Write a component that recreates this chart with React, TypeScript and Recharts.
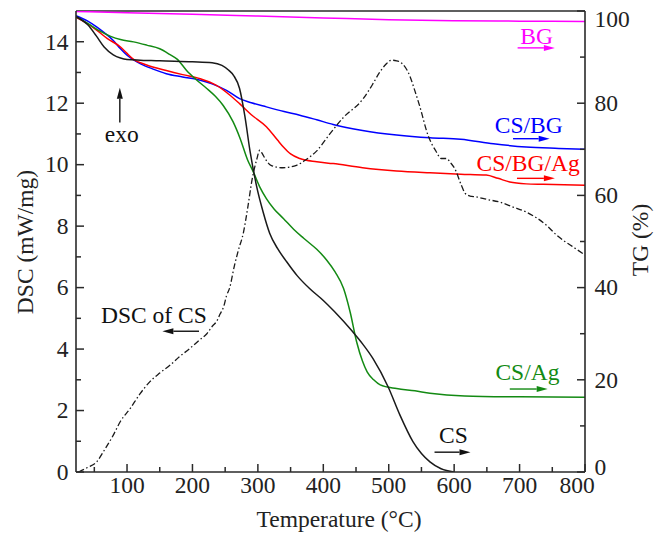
import { LineChart, Line, XAxis, YAxis, ReferenceLine, ReferenceDot } from "recharts";

// temperature ticks
const xMajor = [100, 200, 300, 400, 500, 600, 700, 800];
const xMinor = [50, 150, 250, 350, 450, 550, 650, 750];
const dscMajor = [0, 2, 4, 6, 8, 10, 12, 14];
const dscMinor = [1, 3, 5, 7, 9, 11, 13];
const tgMajor = [0, 20, 40, 60, 80, 100];
const tgMinor = [10, 30, 50, 70, 90];

// [temperature, TG %]
const bgTG = [
  [22, 99.9], [100, 99.6], [200, 99.3], [300, 98.9], [400, 98.5],
  [500, 98.1], [600, 97.9], [700, 97.8], [800, 97.7],
];
const csTG = [
  [22, 98.8], [40, 97.0], [53, 94.6], [65, 92.2], [79, 90.5], [90, 89.8], [100, 89.5],
  [150, 89.2], [200, 89.0], [230, 88.8], [245, 88.2], [255, 87.2], [263, 86.0],
  [272, 83.2], [280, 77.3], [288, 69.6], [298, 62.0], [308, 56.4], [318, 51.8],
  [330, 48.5], [344, 45.6], [360, 42.6], [379, 39.8], [400, 37.2], [417, 34.8],
  [445, 30.4], [460, 27.8], [476, 24.6], [499, 18.5], [517, 12.4], [537, 6.6],
  [550, 4.0], [563, 2.2], [580, 0.7], [600, 0],
];
const csbgTG = [
  [22, 99.0], [40, 97.8], [54, 96.5], [66, 95.2], [79, 93.6], [90, 91.8], [100, 90.4],
  [110, 89.4], [120, 88.6], [140, 87.4], [160, 86.4], [185, 85.7], [212, 85.0],
  [230, 84.2], [252, 82.8], [272, 81.0], [290, 80.1], [313, 79.2], [340, 78.2],
  [364, 77.4], [390, 76.4], [415, 75.4], [460, 74.1], [512, 73.1], [563, 72.5],
  [610, 72.2], [660, 71.2], [710, 70.5], [760, 70.2], [800, 70.0],
];
const csbgagTG = [
  [22, 98.6], [40, 97.2], [54, 95.8], [70, 94.0], [90, 92.2], [100, 90.8], [110, 89.5],
  [130, 88.3], [160, 87.1], [185, 86.2], [212, 85.3], [236, 83.9], [255, 82.0],
  [272, 79.9], [290, 77.5], [313, 74.9], [330, 72.0], [339, 70.5], [350, 69.0],
  [364, 68.0], [390, 67.3], [415, 66.9], [460, 66.0], [512, 65.3], [563, 64.9],
  [610, 64.6], [649, 64.4], [667, 63.7], [685, 62.9], [710, 62.5], [736, 62.4],
  [800, 62.2],
];
const csagTG = [
  [22, 98.8], [40, 97.3], [58, 95.7], [75, 94.5], [90, 93.8], [110, 93.3], [130, 92.6],
  [150, 91.8], [165, 90.6], [177, 89.5], [191, 87.1], [205, 85.2], [221, 83.3],
  [235, 81.5], [247, 79.5], [262, 76.0], [273, 72.3], [284, 67.8], [293, 65.1],
  [303, 61.8], [313, 59.3], [325, 57.0], [339, 55.0], [355, 52.6], [370, 50.7],
  [390, 48.3], [405, 46.0], [418, 43.4], [431, 39.8], [441, 34.7], [451, 28.2],
  [460, 24.0], [467, 21.7], [477, 20.0], [487, 18.9], [512, 18.1], [540, 17.6],
  [563, 17.1], [616, 16.5], [700, 16.3], [800, 16.2],
];
// [temperature, DSC mW/mg]
const csDSC = [
  [26, 0], [40, 0.15], [54, 0.34], [65, 0.7], [79, 1.2], [90, 1.65], [105, 2.07],
  [120, 2.55], [135, 2.94], [150, 3.22], [166, 3.48], [180, 3.75], [196, 4.02],
  [211, 4.3], [222, 4.5], [231, 4.76], [237, 4.9], [242, 5.13], [248, 5.4],
  [252, 5.73], [257, 6.0], [264, 6.7], [270, 7.2], [278, 7.8], [285, 8.67],
  [291, 9.5], [298, 10.15], [303, 10.47], [307, 10.35], [311, 10.2], [320, 9.98],
  [338, 9.9], [359, 9.98], [374, 10.17], [390, 10.45], [410, 11.0], [430, 11.52],
  [460, 12.12], [475, 12.6], [486, 13.0], [495, 13.25], [504, 13.4], [512, 13.38],
  [520, 13.3], [532, 12.9], [540, 12.4], [547, 11.93], [560, 10.96], [573, 10.41],
  [580, 10.2], [588, 10.2], [595, 10.05], [601, 9.87], [611, 9.33], [617, 9.06],
  [624, 8.98], [634, 8.95], [650, 8.87], [670, 8.78], [690, 8.62], [710, 8.46],
  [741, 8.03], [756, 7.72], [766, 7.55], [780, 7.35], [800, 7.06],
];

// annotations: label, anchor (temperature, value), axis
const labels = [
  { text: "BG", t: 726, v: 92.9, axis: "tg", color: "#ff00ff" },
  { text: "CS/BG", t: 714, v: 73.6, axis: "tg", color: "#0000ff" },
  { text: "CS/BG/Ag", t: 713, v: 65.2, axis: "tg", color: "#ff0000" },
  { text: "CS/Ag", t: 712, v: 20.0, axis: "tg", color: "#138a13" },
  { text: "CS", t: 599, v: 6.2, axis: "tg", color: "#111" },
  { text: "DSC of CS", t: 141, v: 4.84, axis: "dsc", color: "#111" },
  { text: "exo", t: 92, v: 10.74, axis: "dsc", color: "#111" },
];
const arrows = [
  { from: [697, 92.0], to: [754, 92.0], axis: "tg", color: "#ff00ff" },
  { from: [690, 72.3], to: [746, 72.3], axis: "tg", color: "#0000ff" },
  { from: [696, 63.7], to: [754, 63.7], axis: "tg", color: "#ff0000" },
  { from: [685, 18.0], to: [743, 18.0], axis: "tg", color: "#138a13" },
  { from: [570, 4.3], to: [625, 4.3], axis: "tg", color: "#111" },
  { from: [210, 4.58], to: [154, 4.58], axis: "dsc", color: "#111" },
  { from: [89, 11.37], to: [89, 12.5], axis: "dsc", color: "#111" },
];

const PLOT = { left: 76, right: 585, top: 11, bottom: 472 };
const FONT = "'Liberation Serif', 'Times New Roman', serif";
const FS = 23.5;
const AXIS = "#2a2a2a";

const toRows = (pts: number[][]) => pts.map(([t, v]) => ({ t, v }));

function XTick(props: any) {
  const { x, payload } = props;
  const v = payload.value;
  const major = xMajor.includes(v);
  const cx = Math.min(x, PLOT.right - 8);
  return (
    <g>
      <line x1={x} x2={x} y1={PLOT.bottom} y2={PLOT.bottom - (major ? 8 : 5)} stroke={AXIS} strokeWidth={1.5} />
      {major && (
        <text x={cx} y={PLOT.bottom + 20.5} textAnchor="middle" fontFamily={FONT} fontSize={FS} fill="#222">
          {v}
        </text>
      )}
    </g>
  );
}

function LeftTick(props: any) {
  const { y, payload } = props;
  const v = payload.value;
  const major = dscMajor.includes(v);
  return (
    <g>
      <line x1={PLOT.left} x2={PLOT.left + (major ? 8 : 5)} y1={y} y2={y} stroke={AXIS} strokeWidth={1.5} />
      {major && (
        <text x={PLOT.left - 7.5} y={y + 7.8} textAnchor="end" fontFamily={FONT} fontSize={FS} fill="#222">
          {v}
        </text>
      )}
    </g>
  );
}

function RightTick(props: any) {
  const { y, payload } = props;
  const v = payload.value;
  const major = tgMajor.includes(v);
  const cy = Math.min(Math.max(y, PLOT.top + 8), PLOT.bottom - 4.5);
  return (
    <g>
      <line x1={PLOT.right} x2={PLOT.right - (major ? 8 : 5)} y1={y} y2={y} stroke={AXIS} strokeWidth={1.5} />
      {major && (
        <text x={PLOT.right + 9.5} y={cy + 7.8} textAnchor="start" fontFamily={FONT} fontSize={FS} fill="#222">
          {v}
        </text>
      )}
    </g>
  );
}

function Arrow(props: any) {
  const { x1, y1, x2, y2, stroke } = props;
  const a = Math.atan2(y2 - y1, x2 - x1);
  const len = 11;
  const hw = 3;
  const bx = x2 - len * Math.cos(a);
  const by = y2 - len * Math.sin(a);
  const px = -Math.sin(a) * hw;
  const py = Math.cos(a) * hw;
  return (
    <g>
      <line x1={x1} y1={y1} x2={bx} y2={by} stroke={stroke} strokeWidth={1.4} />
      <polygon points={`${x2},${y2} ${bx + px},${by + py} ${bx - px},${by - py}`} fill={stroke} />
    </g>
  );
}

export default function App() {
  return (
    <div style={{ width: 666, height: 534, background: "#fff" }}>
      <style>{`body{margin:0}`}</style>
      <LineChart width={666} height={534} margin={{ top: 11, right: 0, bottom: 0, left: 0 }}>
        <XAxis
          type="number"
          dataKey="t"
          domain={[22, 800]}
          allowDataOverflow
          ticks={[...xMajor, ...xMinor].sort((a, b) => a - b)}
          interval={0}
          height={62}
          tickLine={false}
          tick={<XTick />}
          axisLine={{ stroke: AXIS, strokeWidth: 1.6 }}
          label={{
            content: () => (
              <text x={339} y={527} textAnchor="middle" fontFamily={FONT} fontSize={FS} fill="#222">
                Temperature (°C)
              </text>
            ),
          }}
        />
        <YAxis
          yAxisId="dsc"
          type="number"
          domain={[0, 15]}
          allowDataOverflow
          ticks={[...dscMajor, ...dscMinor].sort((a, b) => a - b)}
          interval={0}
          width={76}
          tickLine={false}
          tick={<LeftTick />}
          axisLine={{ stroke: AXIS, strokeWidth: 1.6 }}
          label={{
            content: () => (
              <text x={33} y={242} transform="rotate(-90 33 242)" textAnchor="middle" fontFamily={FONT} fontSize={FS} fill="#222">
                DSC (mW/mg)
              </text>
            ),
          }}
        />
        <YAxis
          yAxisId="tg"
          orientation="right"
          type="number"
          domain={[0, 100]}
          allowDataOverflow
          ticks={[...tgMajor, ...tgMinor].sort((a, b) => a - b)}
          interval={0}
          width={81}
          tickLine={false}
          tick={<RightTick />}
          axisLine={{ stroke: AXIS, strokeWidth: 1.6 }}
          label={{
            content: () => (
              <text x={648} y={240} transform="rotate(-90 648 240)" textAnchor="middle" fontFamily={FONT} fontSize={FS} fill="#222">
                TG (%)
              </text>
            ),
          }}
        />
        <ReferenceLine yAxisId="dsc" y={15} stroke={AXIS} strokeWidth={1.6} />

        <Line yAxisId="tg" data={toRows(bgTG)} dataKey="v" type="monotone" stroke="#ff00ff" strokeWidth={1.5} dot={false} isAnimationActive={false} />
        <Line yAxisId="tg" data={toRows(csbgTG)} dataKey="v" type="monotone" stroke="#0000ff" strokeWidth={1.5} dot={false} isAnimationActive={false} />
        <Line yAxisId="tg" data={toRows(csbgagTG)} dataKey="v" type="monotone" stroke="#ff0000" strokeWidth={1.5} dot={false} isAnimationActive={false} />
        <Line yAxisId="tg" data={toRows(csagTG)} dataKey="v" type="monotone" stroke="#138a13" strokeWidth={1.5} dot={false} isAnimationActive={false} />
        <Line yAxisId="tg" data={toRows(csTG)} dataKey="v" type="monotone" stroke="#1a1a1a" strokeWidth={1.5} dot={false} isAnimationActive={false} />
        <Line yAxisId="dsc" data={toRows(csDSC)} dataKey="v" type="monotone" stroke="#1a1a1a" strokeWidth={1.3} strokeDasharray="6 2.5 1.5 2.5" dot={false} isAnimationActive={false} />

        {arrows.map((a, i) => (
          <ReferenceLine
            key={"a" + i}
            yAxisId={a.axis}
            segment={[{ x: a.from[0], y: a.from[1] }, { x: a.to[0], y: a.to[1] }]}
            stroke={a.color}
            shape={(p: any) => <Arrow {...p} stroke={a.color} />}
          />
        ))}
        {labels.map((l, i) => (
          <ReferenceDot
            key={"l" + i}
            yAxisId={l.axis}
            x={l.t}
            y={l.v}
            r={0}
            shape={(p: any) => (
              <text x={p.cx} y={p.cy} textAnchor="middle" fontFamily={FONT} fontSize={FS} fill={l.color}>
                {l.text}
              </text>
            )}
          />
        ))}
      </LineChart>
    </div>
  );
}
